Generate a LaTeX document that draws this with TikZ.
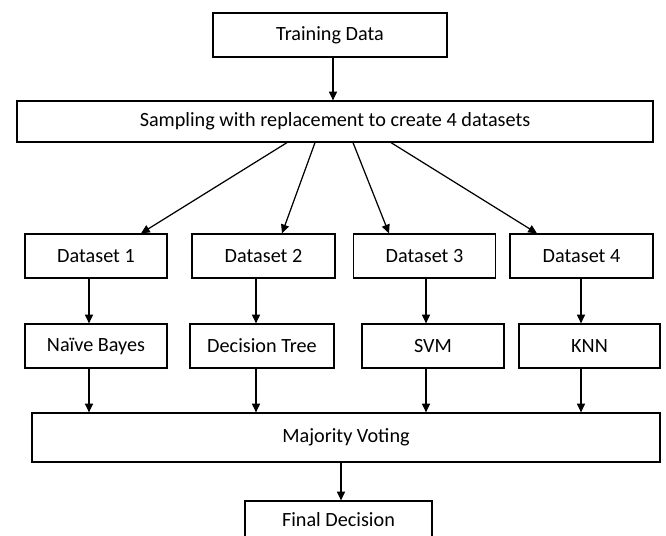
\documentclass[tikz,border=0pt]{standalone}
\usepackage{fontspec}
\setmainfont{Carlito}
\usetikzlibrary{arrows.meta}

\begin{document}
\begin{tikzpicture}[x=0.02cm,y=-0.02cm,
    box/.style={draw,line width=0.7pt,inner sep=0pt,font=\fontsize{11.5}{14}\selectfont,
      minimum width=2.84cm,minimum height=0.88cm},
    arr/.style={line width=0.7pt,-{Triangle[length=5pt,width=4.6pt]}}]
      \useasboundingbox (0,0) rectangle (666,536);
      % boxes
      \node[box,minimum width=4.68cm] (train) at (330,35) {Training Data};
      \node[box,minimum width=12.72cm,minimum height=0.82cm] (sample) at (335,121.5)
        {Sampling with replacement to create 4 datasets};
      \node[box] (d1) at (96,256) {Dataset 1};
      \node[box,minimum width=2.86cm] (d2) at (263.5,256) {Dataset 2};
      \node[box] (d3) at (424.5,256) {Dataset 3};
      \node[box,minimum width=2.86cm] (d4) at (581.5,256) {Dataset 4};
      \node[box] (nb) at (96,346) {Naïve Bayes};
      \node[box,minimum width=2.88cm] (dt) at (262,346) {Decision Tree};
      \node[box] (svm) at (433,346) {SVM};
      \node[box,minimum width=2.82cm] (knn) at (589.5,346) {KNN};
      \node[box,minimum width=12.56cm,minimum height=0.98cm] (vote) at (346,437.5) {Majority Voting};
      \node[box,minimum width=3.74cm,minimum height=0.76cm] (final) at (338.5,520) {Final Decision};
      % arrow columns
      \coordinate (c0) at (333,0);
      \coordinate (c1) at (89,0);
      \coordinate (c2) at (256,0);
      \coordinate (c3) at (426,0);
      \coordinate (c4) at (581,0);
      \coordinate (c5) at (341,0);
      \coordinate (s1) at (287,0);
      \coordinate (s2) at (315,0);
      \coordinate (s3) at (353,0);
      \coordinate (s4) at (391,0);
      \coordinate (t1) at (141,0);
      \coordinate (t2) at (282,0);
      \coordinate (t3) at (389,0);
      \coordinate (t4) at (537,0);
      \begin{scope}[arr]
        \draw (train.south -| c0) to (sample.north -| c0);
        \draw (sample.south -| s1) to (d1.north -| t1);
        \draw (sample.south -| s2) to (d2.north -| t2);
        \draw (sample.south -| s3) to (d3.north -| t3);
        \draw (sample.south -| s4) to (d4.north -| t4);
        \draw (d1.south -| c1) to (nb.north -| c1);
        \draw (d2.south -| c2) to (dt.north -| c2);
        \draw (d3.south -| c3) to (svm.north -| c3);
        \draw (d4.south -| c4) to (knn.north -| c4);
        \draw (nb.south -| c1) to (vote.north -| c1);
        \draw (dt.south -| c2) to (vote.north -| c2);
        \draw (svm.south -| c3) to (vote.north -| c3);
        \draw (knn.south -| c4) to (vote.north -| c4);
        \draw (vote.south -| c5) to (final.north -| c5);
      \end{scope}
    \end{tikzpicture}
\end{document}
